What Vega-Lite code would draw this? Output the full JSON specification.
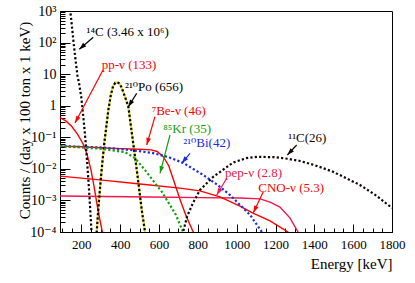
{
  "$schema": "https://vega.github.io/schema/vega-lite/v6.json",
  "width": 332,
  "height": 221,
  "autosize": "none",
  "padding": {"left": 60, "top": 11, "right": 23, "bottom": 51},
  "background": "white",
  "config": {
    "font": "Liberation Serif, Times New Roman, DejaVu Serif, serif",
    "view": {"stroke": "black", "strokeWidth": 1},
    "text": {"font": "Liberation Serif, Times New Roman, DejaVu Serif, serif"}
  },
  "datasets": {
    "curves": [
      {"s": "C14", "e": 138, "c": 1585}, {"s": "C14", "e": 143, "c": 1000}, {"s": "C14", "e": 150, "c": 398},
      {"s": "C14", "e": 160, "c": 100}, {"s": "C14", "e": 170, "c": 28.2}, {"s": "C14", "e": 180, "c": 8.91},
      {"s": "C14", "e": 190, "c": 4.47}, {"s": "C14", "e": 200, "c": 1.78}, {"s": "C14", "e": 210, "c": 0.447},
      {"s": "C14", "e": 220, "c": 0.1}, {"s": "C14", "e": 230, "c": 0.0158}, {"s": "C14", "e": 240, "c": 0.002},
      {"s": "C14", "e": 250, "c": 0.000178}, {"s": "C14", "e": 254, "c": 0.000063},

      {"s": "Po", "e": 272, "c": 0.00005}, {"s": "Po", "e": 279, "c": 0.0001}, {"s": "Po", "e": 287, "c": 0.0005},
      {"s": "Po", "e": 301, "c": 0.00562}, {"s": "Po", "e": 318, "c": 0.0646}, {"s": "Po", "e": 339, "c": 0.724},
      {"s": "Po", "e": 352, "c": 2.2}, {"s": "Po", "e": 364, "c": 4.3}, {"s": "Po", "e": 375, "c": 5.3},
      {"s": "Po", "e": 386, "c": 5.5}, {"s": "Po", "e": 397, "c": 5.0}, {"s": "Po", "e": 407, "c": 3.8},
      {"s": "Po", "e": 425, "c": 1.9}, {"s": "Po", "e": 442, "c": 0.933}, {"s": "Po", "e": 467, "c": 0.0646},
      {"s": "Po", "e": 490, "c": 0.00562}, {"s": "Po", "e": 511, "c": 0.0005}, {"s": "Po", "e": 528, "c": 0.0001},
      {"s": "Po", "e": 535, "c": 0.00005},

      {"s": "pp", "e": 90, "c": 0.417}, {"s": "pp", "e": 120, "c": 0.331}, {"s": "pp", "e": 150, "c": 0.224},
      {"s": "pp", "e": 180, "c": 0.126}, {"s": "pp", "e": 210, "c": 0.0603}, {"s": "pp", "e": 230, "c": 0.0282},
      {"s": "pp", "e": 250, "c": 0.00891}, {"s": "pp", "e": 265, "c": 0.00282}, {"s": "pp", "e": 280, "c": 0.000794},
      {"s": "pp", "e": 295, "c": 0.000251}, {"s": "pp", "e": 308, "c": 0.0001}, {"s": "pp", "e": 312, "c": 0.000071},

      {"s": "Be7", "e": 90, "c": 0.0525}, {"s": "Be7", "e": 200, "c": 0.0501}, {"s": "Be7", "e": 300, "c": 0.0468},
      {"s": "Be7", "e": 400, "c": 0.0437}, {"s": "Be7", "e": 500, "c": 0.0417}, {"s": "Be7", "e": 560, "c": 0.0398},
      {"s": "Be7", "e": 590, "c": 0.0355}, {"s": "Be7", "e": 620, "c": 0.0251}, {"s": "Be7", "e": 650, "c": 0.0126},
      {"s": "Be7", "e": 680, "c": 0.00355}, {"s": "Be7", "e": 710, "c": 0.001}, {"s": "Be7", "e": 740, "c": 0.000316},
      {"s": "Be7", "e": 780, "c": 0.000089},

      {"s": "Bi", "e": 90, "c": 0.0525}, {"s": "Bi", "e": 296, "c": 0.0479}, {"s": "Bi", "e": 450, "c": 0.0398},
      {"s": "Bi", "e": 569, "c": 0.0316}, {"s": "Bi", "e": 650, "c": 0.0234}, {"s": "Bi", "e": 724, "c": 0.0155},
      {"s": "Bi", "e": 827, "c": 0.00646}, {"s": "Bi", "e": 900, "c": 0.00316}, {"s": "Bi", "e": 966, "c": 0.00148},
      {"s": "Bi", "e": 1069, "c": 0.000347}, {"s": "Bi", "e": 1130, "c": 0.0001}, {"s": "Bi", "e": 1140, "c": 0.000079},

      {"s": "Kr", "e": 90, "c": 0.0525}, {"s": "Kr", "e": 296, "c": 0.0437}, {"s": "Kr", "e": 425, "c": 0.0339},
      {"s": "Kr", "e": 476, "c": 0.0219}, {"s": "Kr", "e": 528, "c": 0.00912}, {"s": "Kr", "e": 579, "c": 0.00355},
      {"s": "Kr", "e": 615, "c": 0.00186}, {"s": "Kr", "e": 657, "c": 0.000708}, {"s": "Kr", "e": 687, "c": 0.000347},
      {"s": "Kr", "e": 724, "c": 0.0001}, {"s": "Kr", "e": 730, "c": 0.00008},

      {"s": "C11", "e": 720, "c": 0.000079}, {"s": "C11", "e": 724, "c": 0.0001}, {"s": "C11", "e": 745, "c": 0.000316},
      {"s": "C11", "e": 775, "c": 0.00083}, {"s": "C11", "e": 811, "c": 0.00214}, {"s": "C11", "e": 878, "c": 0.0055},
      {"s": "C11", "e": 981, "c": 0.0158}, {"s": "C11", "e": 1050, "c": 0.0219}, {"s": "C11", "e": 1105, "c": 0.024},
      {"s": "C11", "e": 1200, "c": 0.0234}, {"s": "C11", "e": 1260, "c": 0.0209}, {"s": "C11", "e": 1326, "c": 0.0178},
      {"s": "C11", "e": 1400, "c": 0.0132}, {"s": "C11", "e": 1496, "c": 0.00813}, {"s": "C11", "e": 1635, "c": 0.00309},
      {"s": "C11", "e": 1720, "c": 0.00141}, {"s": "C11", "e": 1800, "c": 0.000575},

      {"s": "pep", "e": 90, "c": 0.00138}, {"s": "pep", "e": 553, "c": 0.00129}, {"s": "pep", "e": 811, "c": 0.00123},
      {"s": "pep", "e": 1017, "c": 0.0012}, {"s": "pep", "e": 1120, "c": 0.00112}, {"s": "pep", "e": 1172, "c": 0.00089},
      {"s": "pep", "e": 1223, "c": 0.000617}, {"s": "pep", "e": 1275, "c": 0.000275}, {"s": "pep", "e": 1316, "c": 0.0001},
      {"s": "pep", "e": 1325, "c": 0.000071},

      {"s": "CNO", "e": 90, "c": 0.00589}, {"s": "CNO", "e": 296, "c": 0.00447}, {"s": "CNO", "e": 502, "c": 0.00331},
      {"s": "CNO", "e": 708, "c": 0.00245}, {"s": "CNO", "e": 811, "c": 0.002}, {"s": "CNO", "e": 914, "c": 0.00129},
      {"s": "CNO", "e": 1017, "c": 0.00066}, {"s": "CNO", "e": 1084, "c": 0.000398}, {"s": "CNO", "e": 1172, "c": 0.000224},
      {"s": "CNO", "e": 1264, "c": 0.0001}, {"s": "CNO", "e": 1275, "c": 0.000079}
    ],
    "arrows": [
      {"s": "C14", "e": 261.5, "c": 147, "e2": 189.4, "c2": 61.2, "ang": 229},
      {"s": "pp", "e": 311.5, "c": 13.5, "e2": 167.3, "c2": 0.283, "ang": 208},
      {"s": "Po", "e": 485, "c": 2.47, "e2": 441.8, "c2": 0.93, "ang": 212},
      {"s": "Be7", "e": 579.3, "c": 0.449, "e2": 536.6, "c2": 0.0569, "ang": 196},
      {"s": "Kr", "e": 656.6, "c": 0.118, "e2": 605, "c2": 0.00723, "ang": 195},
      {"s": "Bi", "e": 759.6, "c": 0.0311, "e2": 716.9, "c2": 0.015, "ang": 220},
      {"s": "C11", "e": 1309, "c": 0.0569, "e2": 1261, "c2": 0.0275, "ang": 223},
      {"s": "pep", "e": 948.7, "c": 0.00502, "e2": 897.2, "c2": 0.00149, "ang": 211},
      {"s": "CNO", "e": 1137.2, "c": 0.00189, "e2": 1085.7, "c2": 0.000408, "ang": 206}
    ],
    "labels": [
      {"s": "C14", "t": "¹⁴C (3.46 x 10⁶)", "e": 227, "c": 224},
      {"s": "pp", "t": "pp-ν (133)", "e": 305, "c": 19.5},
      {"s": "Po", "t": "²¹⁰Po (656)", "e": 425, "c": 4.0},
      {"s": "Be7", "t": "⁷Be-ν  (46)", "e": 562, "c": 0.70},
      {"s": "Kr", "t": "⁸⁵Kr (35)", "e": 622, "c": 0.183},
      {"s": "Bi", "t": "²¹⁰Bi(42)", "e": 725, "c": 0.0659},
      {"s": "C11", "t": "¹¹C(26)", "e": 1266, "c": 0.0929},
      {"s": "pep", "t": "pep-ν  (2.8)", "e": 940, "c": 0.00755},
      {"s": "CNO", "t": "CNO-ν  (5.3)", "e": 1111, "c": 0.00242}
    ]
  },
  "encoding": {
    "x": {
      "field": "e", "type": "quantitative",
      "scale": {"type": "linear", "domain": [90, 1800], "nice": false, "zero": false},
      "axis": {
        "values": [100,150,200,250,300,350,400,450,500,550,600,650,700,750,800,850,900,950,1000,1050,1100,1150,1200,1250,1300,1350,1400,1450,1500,1550,1600,1650,1700,1750,1800],
        "labelExpr": "datum.value % 200 == 0 ? '' + datum.value : ''",
        "tickSize": {"condition": {"test": "datum.value % 200 == 0", "value": -8}, "value": -4},
        "labelPadding": 14,
        "labelOverlap": false, "labelFlush": false, "labelBound": false,
        "domainColor": "black", "tickColor": "black", "labelColor": "black",
        "labelFontSize": 13, "labelFont": "Liberation Serif, Times New Roman, DejaVu Serif, serif",
        "grid": false,
        "title": "Energy [keV]", "titleFont": "Liberation Serif, Times New Roman, DejaVu Serif, serif", "titleFontSize": 15,
        "titleFontWeight": "normal", "titleColor": "black", "titleAnchor": "end",
        "titleY": 31, "titleBaseline": "middle"
      }
    },
    "y": {
      "field": "c", "type": "quantitative",
      "scale": {"type": "log", "domain": [0.0001, 1000], "nice": false},
      "axis": {
        "values": [0.0001,0.0002,0.0003,0.0004,0.0005,0.0006,0.0007,0.0008,0.0009,
                   0.001,0.002,0.003,0.004,0.005,0.006,0.007,0.008,0.009,
                   0.01,0.02,0.03,0.04,0.05,0.06,0.07,0.08,0.09,
                   0.1,0.2,0.3,0.4,0.5,0.6,0.7,0.8,0.9,
                   1,2,3,4,5,6,7,8,9,10,20,30,40,50,60,70,80,90,
                   100,200,300,400,500,600,700,800,900,1000],
        "labelExpr": "abs(log(datum.value)/LN10 - round(log(datum.value)/LN10)) < 0.000001 ? ['10⁻⁴','10⁻³','10⁻²','10⁻¹','1','10','10²','10³'][round(log(datum.value)/LN10) + 4] : ''",
        "tickSize": {"condition": {"test": "abs(log(datum.value)/LN10 - round(log(datum.value)/LN10)) < 0.000001", "value": -10}, "value": -5},
        "labelPadding": 14,
        "labelOverlap": false, "labelFlush": false, "labelBound": false,
        "domainColor": "black", "tickColor": "black", "labelColor": "black",
        "labelFontSize": 14, "labelFont": "Liberation Serif, Times New Roman, DejaVu Serif, serif",
        "grid": false,
        "title": "Counts / (day x 100 ton x 1 keV)", "titleFont": "Liberation Serif, Times New Roman, DejaVu Serif, serif", "titleFontSize": 15,
        "titleFontWeight": "normal", "titleColor": "black",
        "titleX": -28, "titleY": 109, "titleAlign": "center", "titleAngle": -90
      }
    }
  },
  "layer": [
    {
      "data": {"name": "curves"},
      "transform": [{"filter": "datum.s == 'Po'"}],
      "mark": {"type": "line", "color": "#e6e05a", "strokeWidth": 2.2, "clip": true},
      "encoding": {}
    },
    {
      "data": {"name": "curves"},
      "transform": [{"filter": "indexof(['pp','Be7','pep','CNO'], datum.s) >= 0"}],
      "mark": {"type": "line", "strokeWidth": 1.4, "clip": true},
      "encoding": {
        "color": {"field": "s", "type": "nominal", "legend": null,
          "scale": {"domain": ["pp","Be7","pep","CNO","C14","Po","Bi","Kr","C11"],
                    "range": ["#ff0000","#ff0000","#f5154a","#ff0000","#000000","#000000","#1a2ee8","#12a012","#150505"]}}
      }
    },
    {
      "data": {"name": "curves"},
      "transform": [{"filter": "indexof(['C14','Po','Bi','Kr','C11'], datum.s) >= 0"}],
      "mark": {"type": "line", "strokeWidth": 2.2, "strokeDash": [2.2, 2.2], "clip": true},
      "encoding": {
        "color": {"field": "s", "type": "nominal", "legend": null,
          "scale": {"domain": ["pp","Be7","pep","CNO","C14","Po","Bi","Kr","C11"],
                    "range": ["#ff0000","#ff0000","#f5154a","#ff0000","#000000","#000000","#1a2ee8","#12a012","#150505"]}}
      }
    },
    {
      "data": {"name": "arrows"},
      "mark": {"type": "rule", "strokeWidth": 1.2},
      "encoding": {
        "x2": {"field": "e2"},
        "y2": {"field": "c2"},
        "color": {"field": "s", "type": "nominal", "legend": null,
          "scale": {"domain": ["pp","Be7","pep","CNO","C14","Po","Bi","Kr","C11"],
                    "range": ["#ff0000","#ff0000","#f5154a","#ff0000","#000000","#000000","#1a2ee8","#12a012","#150505"]}}
      }
    },
    {
      "data": {"name": "arrows"},
      "mark": {"type": "point", "shape": "M0,0L-0.5,1.5L0.5,1.5Z", "filled": true, "size": 90, "opacity": 1, "strokeWidth": 0},
      "encoding": {
        "x": {"field": "e2", "type": "quantitative"},
        "y": {"field": "c2", "type": "quantitative"},
        "angle": {"field": "ang", "type": "quantitative", "scale": null},
        "color": {"field": "s", "type": "nominal", "legend": null,
          "scale": {"domain": ["pp","Be7","pep","CNO","C14","Po","Bi","Kr","C11"],
                    "range": ["#ff0000","#ff0000","#f5154a","#ff0000","#000000","#000000","#1a2ee8","#12a012","#150505"]}}
      }
    },
    {
      "data": {"name": "labels"},
      "mark": {"type": "text", "align": "left", "baseline": "middle", "fontSize": 13, "font": "Liberation Serif, Times New Roman, DejaVu Serif, serif"},
      "encoding": {
        "text": {"field": "t"},
        "color": {"field": "s", "type": "nominal", "legend": null,
          "scale": {"domain": ["pp","Be7","pep","CNO","C14","Po","Bi","Kr","C11"],
                    "range": ["#ff0000","#ff0000","#f5154a","#ff0000","#000000","#000000","#1a2ee8","#12a012","#150505"]}}
      }
    }
  ]
}
